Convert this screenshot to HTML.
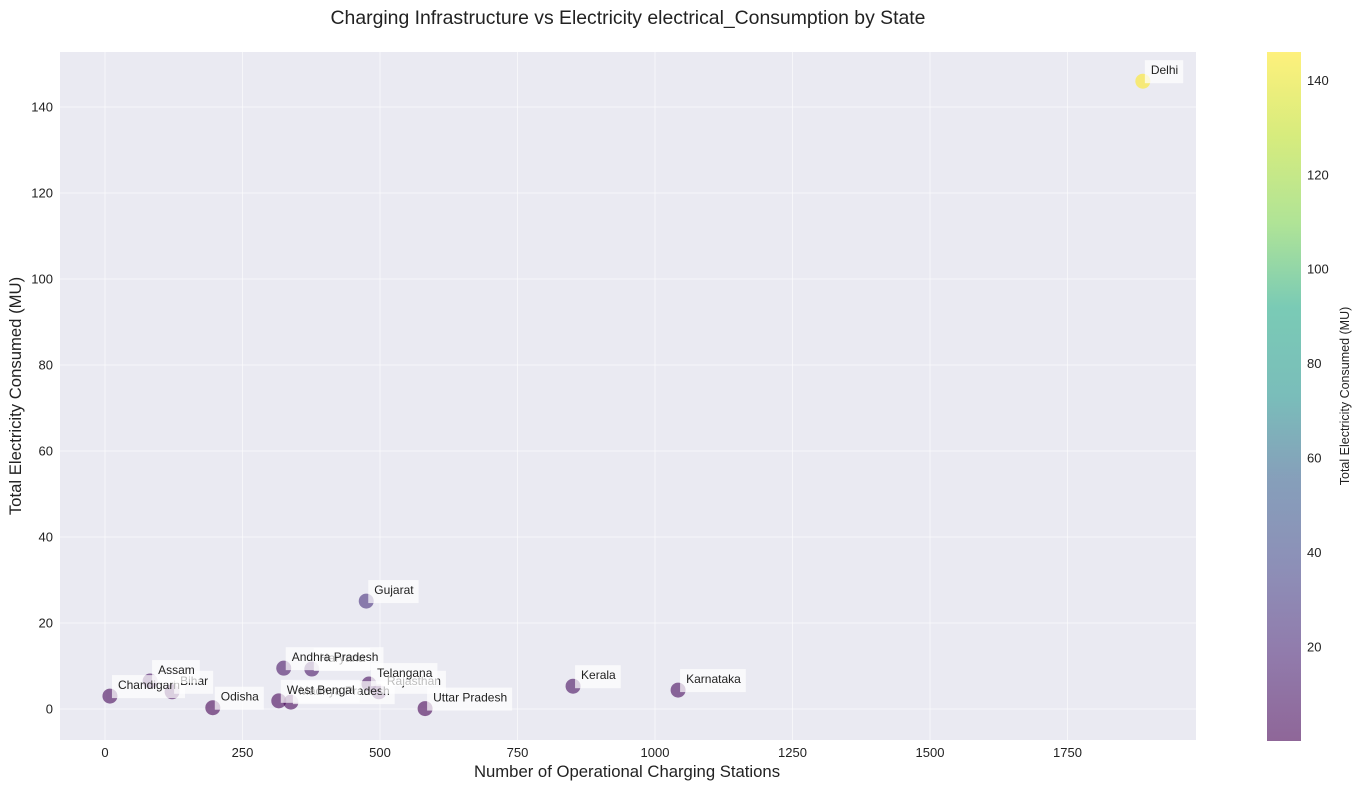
<!DOCTYPE html>
<html><head><meta charset="utf-8"><style>
body{margin:0;background:#fff;font-family:"Liberation Sans",Arial,sans-serif}
svg text{font-family:"Liberation Sans",Arial,sans-serif}
</style></head><body>
<svg id="chart" width="1358" height="790" xmlns="http://www.w3.org/2000/svg">
<defs>
<linearGradient id="vir" x1="0" y1="1" x2="0" y2="0">
<stop offset="0" stop-color="#440154"/><stop offset="0.13" stop-color="#482475"/><stop offset="0.25" stop-color="#414487"/><stop offset="0.38" stop-color="#355f8d"/><stop offset="0.5" stop-color="#21918c"/><stop offset="0.63" stop-color="#22a884"/><stop offset="0.75" stop-color="#7ad151"/><stop offset="0.88" stop-color="#bddf26"/><stop offset="1" stop-color="#fde725"/>
</linearGradient>
</defs>
<text x="628" y="24" font-size="19.4" text-anchor="middle" fill="#222">Charging Infrastructure vs Electricity electrical_Consumption by State</text>
<rect x="60" y="52" width="1136" height="688" fill="#eaeaf2"/>
<g id="grid"></g>
<g id="points"></g>
<g id="labels"></g>
<g id="xticks"></g>
<g id="yticks"></g>
<text x="627" y="777" font-size="16.7" text-anchor="middle" fill="#222">Number of Operational Charging Stations</text>
<text transform="translate(21,396) rotate(-90)" font-size="16.7" text-anchor="middle" fill="#222">Total Electricity Consumed (MU)</text>
<rect x="1267" y="52" width="34" height="689" fill="url(#vir)" opacity="0.6"/>
<g id="cticks"></g>
<text transform="translate(1349,396) rotate(-90)" font-size="12.5" text-anchor="middle" fill="#222">Total Electricity Consumed (MU)</text>
</svg>
<script>
const states=["Haryana","Madhya Pradesh","Rajasthan","Chandigarh","Bihar","Assam","Andhra Pradesh","West Bengal","Telangana","Odisha","Uttar Pradesh","Gujarat","Kerala","Karnataka","Delhi"];
const stations=[376,338,498,9,122,82,325,316,480,196,582,475,851,1042,1887];
const consumption=[9.3,1.6,4.0,3.0,4.0,6.5,9.5,1.9,5.8,0.3,0.1,25.1,5.3,4.4,146.0];
const xTicks=[0,250,500,750,1000,1250,1500,1750];
const yTicks=[0,20,40,60,80,100,120,140];
const cTicks=[20,40,60,80,100,120,140];
const NS="http://www.w3.org/2000/svg";
const sx=v=>105+v*0.55;
const sy=v=>709-v*4.3;
const cmin=0.1,cmax=146.0;
const cy=v=>741-(v-cmin)/(cmax-cmin)*689;
const vir=[[68,1,84],[72,36,117],[65,68,135],[53,95,141],[33,145,140],[34,168,132],[122,209,81],[189,223,38],[253,231,37]];
const vo=[0,0.13,0.25,0.38,0.5,0.63,0.75,0.88,1];
function color(v){let t=(v-cmin)/(cmax-cmin);t=Math.max(0,Math.min(1,t));let i=0;while(i<vo.length-2&&t>vo[i+1])i++;const f=(t-vo[i])/(vo[i+1]-vo[i]);const c=vir[i].map((a,k)=>Math.round(a+(vir[i+1][k]-a)*f));return `rgb(${c})`;}
function mk(tag,attrs,parent){const e=document.createElementNS(NS,tag);for(const k in attrs)e.setAttribute(k,attrs[k]);document.getElementById(parent).appendChild(e);return e;}
xTicks.forEach(t=>{
  const l=mk('line',{x1:sx(t),x2:sx(t),y1:52,y2:740,stroke:'#fff','stroke-opacity':0.55,'stroke-width':1},'grid');
  
  
  const tx=mk('text',{x:sx(t),y:757,'font-size':13,'text-anchor':'middle',fill:'#222'},'xticks');
  tx.textContent=t;
  
  
});
yTicks.forEach(t=>{
  const l=mk('line',{x1:60,x2:1196,y1:sy(t),y2:sy(t),stroke:'#fff','stroke-opacity':0.55,'stroke-width':1},'grid');
  
  
  const tx=mk('text',{x:53,y:sy(t)+4.5,'font-size':13,'text-anchor':'end',fill:'#222'},'yticks');
  tx.textContent=t;
  
  
});
cTicks.forEach(t=>{
  const tx=mk('text',{x:1307,y:cy(t)+4.5,'font-size':13,fill:'#222'},'cticks');
  tx.textContent=t;
  
  
});
states.forEach((s,i)=>{
  const x=sx(stations[i]),y=sy(consumption[i]);
  const c=mk('circle',{cx:x,cy:y,r:7.5,fill:color(consumption[i]),'fill-opacity':0.6},'points');
  
  
});
states.forEach((s,i)=>{
  const x=sx(stations[i]),y=sy(consumption[i]);
  const t=mk('text',{x:x+8,y:y-7,'font-size':12,fill:'#222'},'labels');
  t.textContent=s;
  
  
  const w=t.getComputedTextLength()+11;
  const r=document.createElementNS(NS,'rect');
  r.setAttribute('x',x+2);r.setAttribute('y',y-21);r.setAttribute('width',w);r.setAttribute('height',23);
  r.setAttribute('fill','#fff');r.setAttribute('fill-opacity',0.7);
  
  
  t.parentNode.insertBefore(r,t);
});
</script>
</body></html>
